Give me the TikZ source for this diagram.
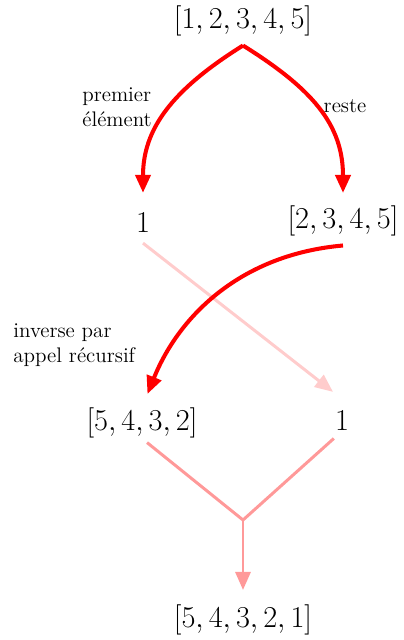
\documentclass[tikz,border=0pt]{standalone}
\usetikzlibrary{arrows.meta}
\tikzset{
  elem/.style={font=\LARGE, inner sep=0pt},
  etiq/.style={font=\large, inner sep=0pt, align=left},
  pointe/.style={-{Triangle[length=0.36cm,width=0.3cm]}},
  rouge/.style={pointe, red, line width=2.3pt},
  pale/.style={red!20, line width=1.7pt},
  moyen/.style={red!40, line width=1.7pt},
}
\begin{document}
\begin{tikzpicture}
    \useasboundingbox (0,0) rectangle (8.06,12.8);
    \node[elem] (liste) at (4.86,12.38) {$[1,2,3,4,5]$};
    \node[elem] (un) at (2.86,8.34) {$1$};
    \node[elem] (reste) at (6.86,8.38) {$[2,3,4,5]$};
    \node[elem] (inv) at (2.84,4.34) {$[5,4,3,2]$};
    \node[elem] (un2) at (6.84,4.38) {$1$};
    \node[elem] (final) at (4.86,0.40) {$[5,4,3,2,1]$};
    \coordinate (jonction) at (4.86,2.40);
    \node[etiq, anchor=west] (lpremier) at (1.64,10.66) {premier\\élément};
    \node[etiq] (lreste) at (6.90,10.68) {reste};
    \node[etiq, anchor=west] (lappel) at (0.26,5.90) {inverse par\\appel récursif};
    \draw[rouge, line join=miter, shorten >=0.4cm] ([yshift=-0.18cm]liste.south) to[out=212,in=90,looseness=1.1] (un.north);
    \draw[rouge, shorten >=0.25cm] ([yshift=-0.18cm]liste.south) to[out=-32,in=90,looseness=1.1] (reste.north);
    \draw[pale, pointe] ([yshift=-0.2cm]un.south) -- ([xshift=-0.18cm,yshift=0.38cm]un2.north);
    \draw[rouge, shorten >=0.29cm] ([yshift=-0.18cm]reste.south) to[out=185,in=68] (inv.north);
    \draw[moyen, shorten <=0.13cm, shorten >=0.22cm] (inv.south) -- (jonction) -- (un2.south);
    \draw[moyen, pointe, shorten >=0.29cm] (jonction) -- (final.north);
\end{tikzpicture}
\end{document}
